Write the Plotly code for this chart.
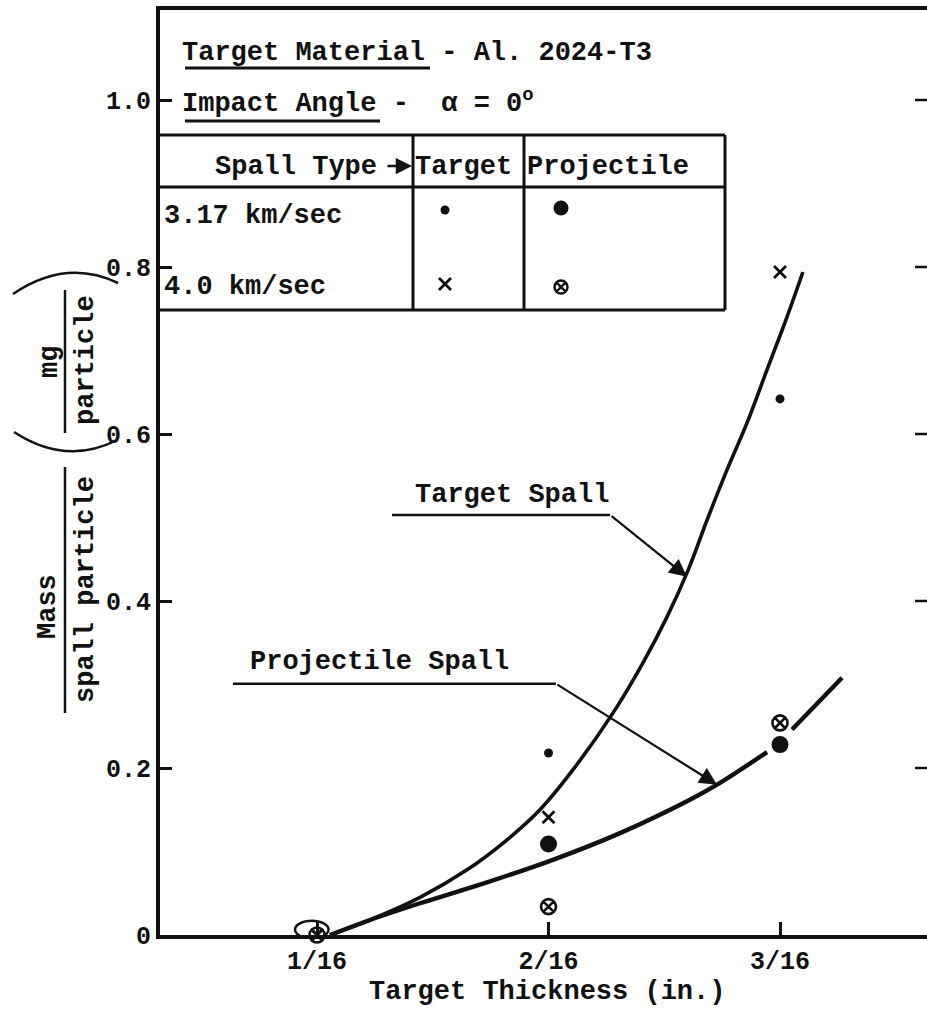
import plotly.graph_objects as go

# ---------------- data (thickness in sixteenths of an inch) ----------------
x_ticks = [1, 2, 3]
x_ticktext = ["1/16", "2/16", "3/16"]
y_ticks = [0, 0.2, 0.4, 0.6, 0.8, 1.0]
y_ticktext = ["0", "0.2", "0.4", "0.6", "0.8", "1.0"]

thick_317 = [2, 3]
target_317 = [0.218, 0.642]          # small dot
proj_317 = [0.109, 0.228]            # large dot

thick_40 = [1, 2, 3]
target_40 = [0.0, 0.141, 0.794]      # x
proj_40 = [0.0, 0.034, 0.254]        # circled x

target_curve_x = [1.056, 1.229, 1.445, 1.648, 1.821, 1.963, 2.106, 2.279, 2.408,
                  2.512, 2.603, 2.685, 2.771, 2.857, 2.944, 3.030, 3.099]
target_curve_y = [0.0, 0.018, 0.045, 0.078, 0.114, 0.150, 0.198, 0.266, 0.326,
                  0.381, 0.437, 0.497, 0.557, 0.613, 0.677, 0.740, 0.794]

proj_curve_x = [1.056, 1.229, 1.445, 1.734, 2.019, 2.309, 2.611, 2.728, 2.944,
                None, 3.052, 3.268]
proj_curve_y = [0.0, 0.018, 0.038, 0.063, 0.090, 0.122, 0.162, 0.180, 0.219,
                None, 0.246, 0.308]

# ---------------- layout geometry ----------------
W, H = 927, 1023
L, R, T, B = 160, 927, 10, 935
PW, PH = R - L, B - T
FONT = "Liberation Mono"
INK = "#111111"
TXT = 27
WT = 700


def px(xp):
    return (xp - L) / PW


def py(yp):
    return (B - yp) / PH


x_range = [1 - (317 - L) / 231.5, 1 + (R - 317) / 231.5]
y_range = [0, (B - T) / 835]


def dx(xp):
    return x_range[0] + px(xp) * (x_range[1] - x_range[0])


def dy(yp):
    return y_range[0] + py(yp) * (y_range[1] - y_range[0])


fig = go.Figure()

# curves
fig.add_trace(go.Scatter(x=target_curve_x, y=target_curve_y, mode="lines",
                         line=dict(color=INK, width=3.6, shape="spline", smoothing=1.0),
                         hoverinfo="skip"))
fig.add_trace(go.Scatter(x=proj_curve_x, y=proj_curve_y, mode="lines",
                         line=dict(color=INK, width=4.4, shape="spline", smoothing=1.0),
                         connectgaps=False, hoverinfo="skip"))

# data points
fig.add_trace(go.Scatter(x=thick_317, y=target_317, mode="markers", cliponaxis=False,
                         marker=dict(symbol="circle", size=9, color=INK, opacity=1)))
fig.add_trace(go.Scatter(x=thick_317, y=proj_317, mode="markers", cliponaxis=False,
                         marker=dict(symbol="circle", size=17, color=INK, opacity=1)))
fig.add_trace(go.Scatter(x=thick_40, y=target_40, mode="markers", cliponaxis=False,
                         marker=dict(symbol="x-thin", size=12, color=INK, opacity=1,
                                     line=dict(color=INK, width=2.8))))
fig.add_trace(go.Scatter(x=thick_40, y=proj_40, mode="markers", cliponaxis=False,
                         marker=dict(symbol="circle-x-open", size=15, color=INK, opacity=1,
                                     line=dict(color=INK, width=2.6))))

# legend-table symbols (placed in the table cells)
leg_x = [dx(445), dx(561), dx(445), dx(561)]
leg_y = [dy(210), dy(208), dy(284), dy(287)]
leg_sym = ["circle", "circle", "x-thin", "circle-x-open"]
leg_size = [9, 15, 12, 13]
leg_lw = [0, 0, 2.8, 2.4]
fig.add_trace(go.Scatter(x=leg_x, y=leg_y, mode="markers", cliponaxis=False,
                         marker=dict(symbol=leg_sym, size=leg_size, color=INK, opacity=1,
                                     line=dict(color=INK, width=leg_lw))))

fig.update_layout(
    width=W, height=H,
    margin=dict(l=L, r=W - R, t=T, b=H - B),
    paper_bgcolor="white", plot_bgcolor="white",
    showlegend=False,
    font=dict(family=FONT, size=24, color=INK),
    xaxis=dict(range=x_range, tickvals=x_ticks, ticktext=x_ticktext,
               ticks="inside", ticklen=13, tickwidth=2.5, tickcolor=INK,
               showline=True, linewidth=4, linecolor=INK, mirror=True,
               showgrid=False, zeroline=False,
               tickfont=dict(family=FONT, size=25, color=INK, weight=WT)),
    yaxis=dict(range=y_range, tickvals=y_ticks, ticktext=y_ticktext,
               ticks="inside", ticklen=12, tickwidth=2.5, tickcolor=INK,
               showline=True, linewidth=4, linecolor=INK, mirror=False,
               showgrid=False, zeroline=False,
               tickfont=dict(family=FONT, size=25, color=INK, weight=WT)),
)

shapes = []
ann = []

# right-side ticks (no right border line in the original)
for v in y_ticks[1:]:
    shapes.append(dict(type="line", xref="paper", yref="y",
                       x0=1 - 12 / PW, x1=1, y0=v, y1=v,
                       line=dict(color=INK, width=2.5)))


def hline(x0, x1, y, w=3):
    shapes.append(dict(type="line", xref="paper", yref="paper",
                       x0=px(x0), x1=px(x1), y0=py(y), y1=py(y),
                       line=dict(color=INK, width=w)))


def vline(x, y0, y1, w=3):
    shapes.append(dict(type="line", xref="paper", yref="paper",
                       x0=px(x), x1=px(x), y0=py(y0), y1=py(y1),
                       line=dict(color=INK, width=w)))


def text(s, x, y, size=TXT, xanchor="left", angle=0):
    ann.append(dict(text=s, xref="paper", yref="paper", x=px(x), y=py(y),
                    xanchor=xanchor, yanchor="middle", showarrow=False,
                    textangle=angle,
                    font=dict(family=FONT, size=size, color=INK, weight=WT)))


# header text + underlines
text("Target Material - Al. 2024-T3", 180, 53)
hline(185, 430, 68, 3)
text("Impact Angle -  α = 0<sup>o</sup>", 180, 101)
hline(185, 380, 121, 3)

# legend table
hline(160, 725, 135)
hline(160, 725, 187)
hline(160, 725, 310)
vline(413, 135, 310)
vline(524, 135, 310)
vline(725, 135, 310)
text("Spall Type", 213, 167)
ann.append(dict(text="", xref="paper", yref="paper", x=px(412), y=py(166),
                ax=-26, ay=0, showarrow=True, arrowhead=2, arrowsize=1.3,
                arrowwidth=2.5, arrowcolor=INK))
text("Target", 413, 167)
text("Projectile", 525, 167)
text("3.17 km/sec", 162, 216)
text("4.0 km/sec", 162, 287)

# oval around the zero points at 1/16
shapes.append(dict(type="circle", xref="x", yref="y",
                   x0=thick_40[0] - 0.095, x1=thick_40[0] + 0.05,
                   y0=proj_40[0] - 0.004, y1=proj_40[0] + 0.017,
                   line=dict(color=INK, width=2.5)))

# curve labels with leader lines and arrows
ann.append(dict(text="Target Spall", x=1.842, y=0.527, xref="x", yref="y",
                showarrow=False,
                font=dict(family=FONT, size=TXT, color=INK, weight=WT)))
shapes.append(dict(type="line", xref="x", yref="y", x0=1.324, x1=2.266,
                   y0=0.503, y1=0.503, line=dict(color=INK, width=2.5)))
ann.append(dict(text="", x=2.598, y=0.429, ax=2.266, ay=0.503, xref="x", yref="y",
                axref="x", ayref="y", showarrow=True, arrowhead=2, arrowsize=1.6,
                arrowwidth=2.2, arrowcolor=INK))

ann.append(dict(text="Projectile Spall", x=1.268, y=0.327, xref="x", yref="y",
                showarrow=False,
                font=dict(family=FONT, size=TXT, color=INK, weight=WT)))
shapes.append(dict(type="line", xref="x", yref="y", x0=0.637, x1=2.032,
                   y0=0.301, y1=0.301, line=dict(color=INK, width=2.5)))
ann.append(dict(text="", x=2.728, y=0.180, ax=2.032, ay=0.301, xref="x", yref="y",
                axref="x", ayref="y", showarrow=True, arrowhead=2, arrowsize=1.6,
                arrowwidth=2.2, arrowcolor=INK))

# x axis title
text("Target Thickness (in.)", 547, 992, xanchor="center")

# y axis title: Mass / spall particle ( mg / particle )
text("Mass", 48, 607, xanchor="center", angle=-90)
vline(65, 467, 713, 2.5)
text("spall particle", 86, 590, xanchor="center", angle=-90)
text("mg", 50, 362, xanchor="center", angle=-90)
vline(65, 290, 433, 2.5)
text("particle", 86, 360, xanchor="center", angle=-90)


def qpath(p0, c, p1):
    return "M {} {} Q {} {} {} {}".format(px(p0[0]), py(p0[1]), px(c[0]), py(c[1]),
                                          px(p1[0]), py(p1[1]))


shapes.append(dict(type="path", xref="paper", yref="paper",
                   path=qpath((14, 432), (66, 466), (117, 440)),
                   line=dict(color=INK, width=2.5)))
shapes.append(dict(type="path", xref="paper", yref="paper",
                   path=qpath((13, 294), (66, 258), (118, 283)),
                   line=dict(color=INK, width=2.5)))

fig.update_layout(shapes=shapes, annotations=ann)
fig.write_html("out.html")
